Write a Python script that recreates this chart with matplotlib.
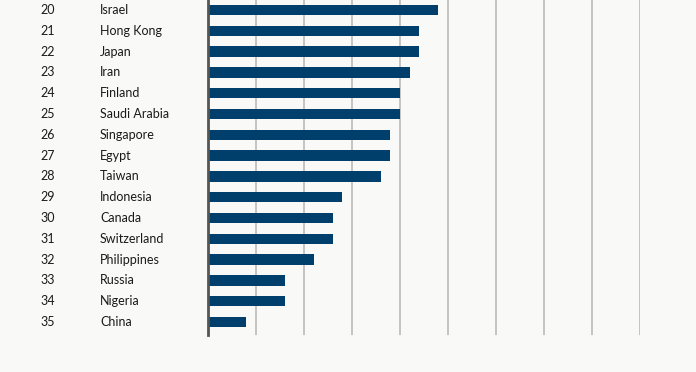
import matplotlib
matplotlib.use("Agg")
import matplotlib.pyplot as plt
import matplotlib.transforms as mtransforms

# Data
ranks = [20, 21, 22, 23, 24, 25, 26, 27, 28, 29, 30, 31, 32, 33, 34, 35]
countries = ["Israel", "Hong Kong", "Japan", "Iran", "Finland", "Saudi Arabia",
             "Singapore", "Egypt", "Taiwan", "Indonesia", "Canada", "Switzerland",
             "Philippines", "Russia", "Nigeria", "China"]
values = [4.8, 4.4, 4.4, 4.2, 4.0, 4.0, 3.8, 3.8, 3.6, 2.8, 2.6, 2.6, 2.2, 1.6, 1.6, 0.8]

bg = "#f9f9f7"
plt.rcParams["font.family"] = ["Lato", "DejaVu Sans"]

fig = plt.figure(figsize=(6.96, 3.72), dpi=100, facecolor=bg)
ax = fig.add_axes([208 / 696, 37 / 372, 432 / 696, 335 / 372])
ax.set_facecolor(bg)

ypos = list(range(len(countries)))
ax.barh(ypos, values, height=0.5, color="#003e6b", zorder=3)

ax.set_xlim(0, 9)
ax.set_ylim(15.62, -0.48)
ax.set_xticks(range(1, 10))
ax.set_yticks([])
ax.tick_params(axis="x", length=0, labelbottom=False)
ax.grid(axis="x", color="#c4c4c4", linewidth=1.4, zorder=0)
for s in ["top", "right", "bottom"]:
    ax.spines[s].set_visible(False)
ax.spines["left"].set_color("#555555")
ax.spines["left"].set_linewidth(2)
ax.spines["left"].set_zorder(4)

trans = mtransforms.blended_transform_factory(fig.transFigure, ax.transData)
for y, r, c in zip(ypos, ranks, countries):
    ax.text(40 / 696, y, str(r), transform=trans, ha="left", va="center",
            fontsize=9, color="#1a1a1a")
    ax.text(100 / 696, y, c, transform=trans, ha="left", va="center",
            fontsize=9, color="#1a1a1a")

fig.savefig("out.png", dpi=100, facecolor=bg)
